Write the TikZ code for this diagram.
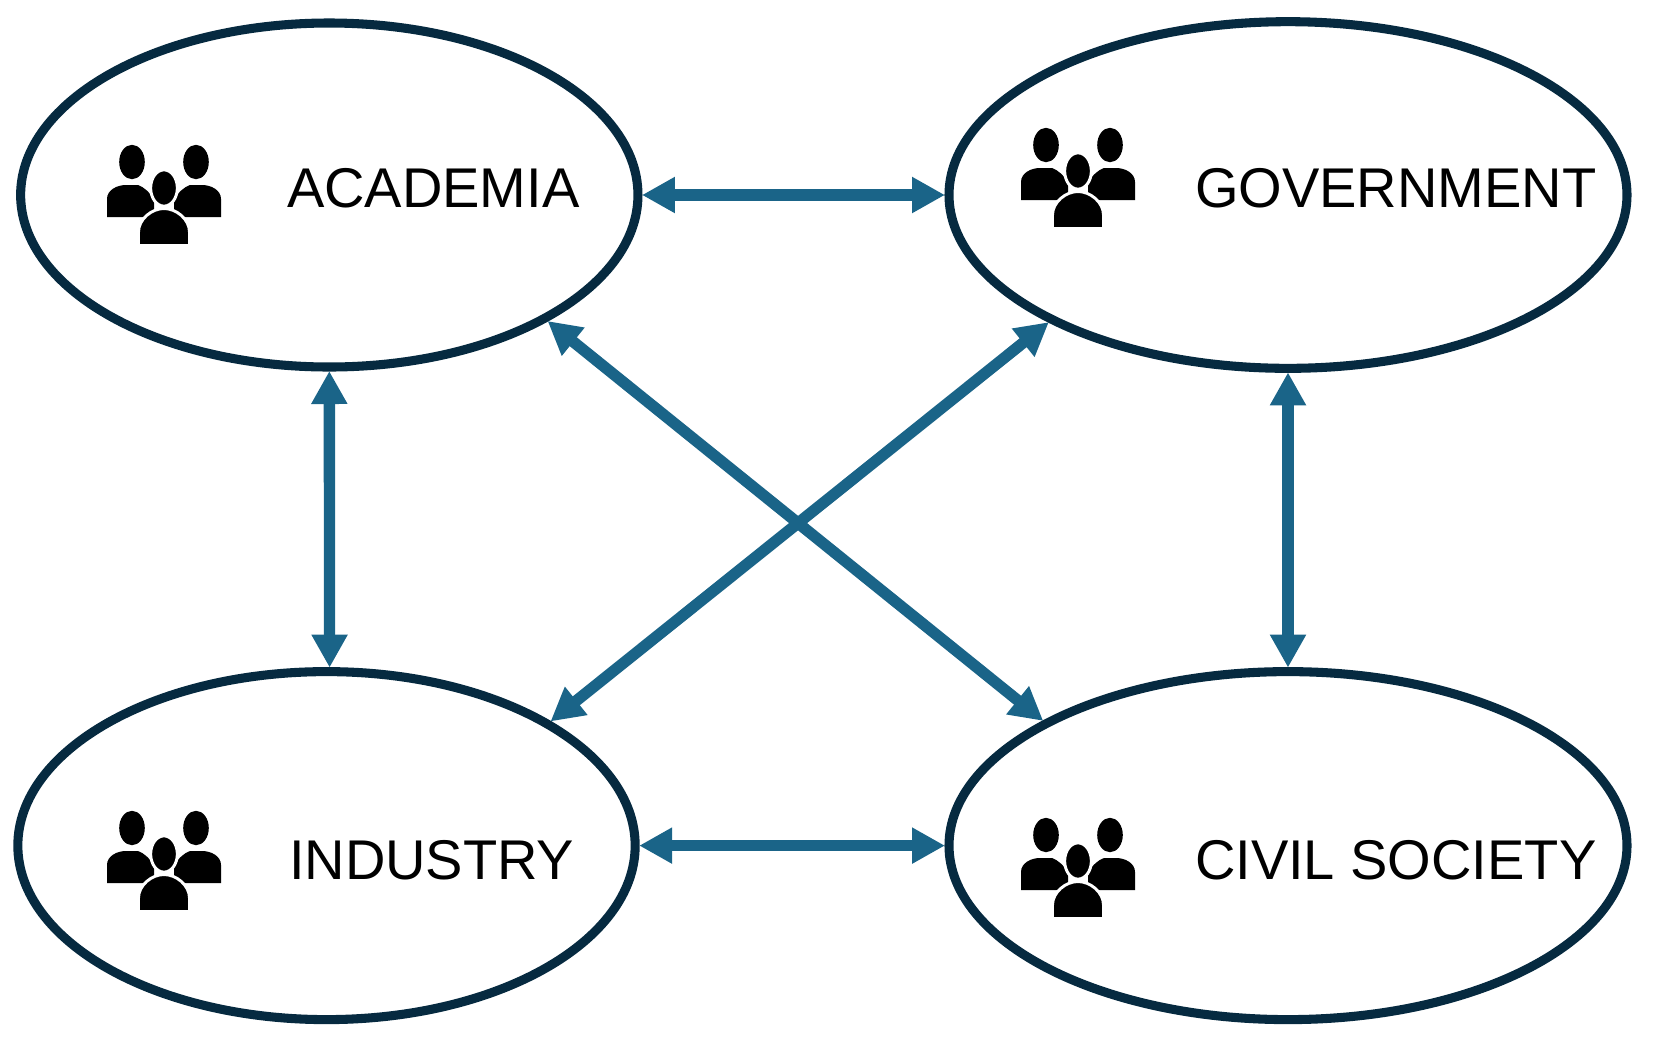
\documentclass[tikz,border=0pt]{standalone}
\usepackage{fontspec}
\setmainfont{Liberation Sans}
\usetikzlibrary{shapes.geometric,arrows.meta}
\definecolor{ring}{HTML}{062A40}
\definecolor{link}{HTML}{1A6488}
\tikzset{
  x=0.75pt,y=-0.75pt,
  party/.style={ellipse,draw=ring,line width=6.8pt,inner sep=0pt,outer sep=3pt,fill=white},
  label/.style={anchor=base west,inner sep=0pt,outer sep=0pt,font=\fontsize{42pt}{42pt}\selectfont,text=black},
  link/.style={draw=link,line width=8.5pt,{Triangle[length=24.75pt,width=25.5pt]}-{Triangle[length=24.75pt,width=25.5pt]}},
  crossing/.style={link,line width=8.5pt},
  icon/.pic={
    \fill[black] (-32,-33) ellipse [x radius=9.6pt,y radius=12.9pt];
    \fill[black] (32,-33) ellipse [x radius=9.6pt,y radius=12.9pt];
    \fill[black] (-57,22) -- (-57,4) .. controls (-57,-5) and (-47,-10) .. (-38,-10) -- (-26,-10) .. controls (-20,-8) and (-15,-3) .. (-10,4) -- (-10,22) -- cycle;
    \fill[black] (57,22) -- (57,4) .. controls (57,-5) and (47,-10) .. (38,-10) -- (26,-10) .. controls (20,-8) and (15,-3) .. (10,4) -- (10,22) -- cycle;
    \filldraw[fill=black,draw=white,line width=2.2pt] (0,-7) ellipse [x radius=10pt,y radius=13.6pt];
    \filldraw[fill=black,draw=white,line width=2.2pt] (-25.5,52) -- (-25.5,37) .. controls (-25.5,24) and (-12,13.5) .. (0,13.5) .. controls (12,13.5) and (25.5,24) .. (25.5,37) -- (25.5,52) -- cycle;
    \fill[white] (-30,49) rectangle (30,56);
  }
}
\begin{document}
\begin{tikzpicture}
\useasboundingbox (0,0) rectangle (1653,1040);
\node[party,minimum width=463pt,minimum height=258pt] (acad) at (329.3,195) {};
\node[party,minimum width=508.5pt,minimum height=260pt] (gov) at (1288,195) {};
\node[party,minimum width=463pt,minimum height=261pt] (ind) at (326.5,845.6) {};
\node[party,minimum width=508.5pt,minimum height=261pt] (civ) at (1288,845.6) {};
\node[label] (acadt) at (287,207) {ACADEMIA};
\node[label] (govt) at (1195,207) {GOVERNMENT};
\node[label] (indt) at (289,879) {INDUSTRY};
\node[label] (civt) at (1195,879) {CIVIL SOCIETY};
\pic at (164,195) {icon};
\pic at (1078,178) {icon};
\pic at (164,861) {icon};
\pic at (1078,868) {icon};
\path[link] (acad.-0.55) -- (gov.180.55);
\path[link] (ind.east) -- (civ.west);
\path[link] (acad.south) -- (ind.89.3);
\path[link] (gov.south) -- (civ.north);
\path[crossing] (acad.-30) -- (civ.153);
\path[crossing] (gov.208) -- (ind.29);
\end{tikzpicture}
\end{document}
